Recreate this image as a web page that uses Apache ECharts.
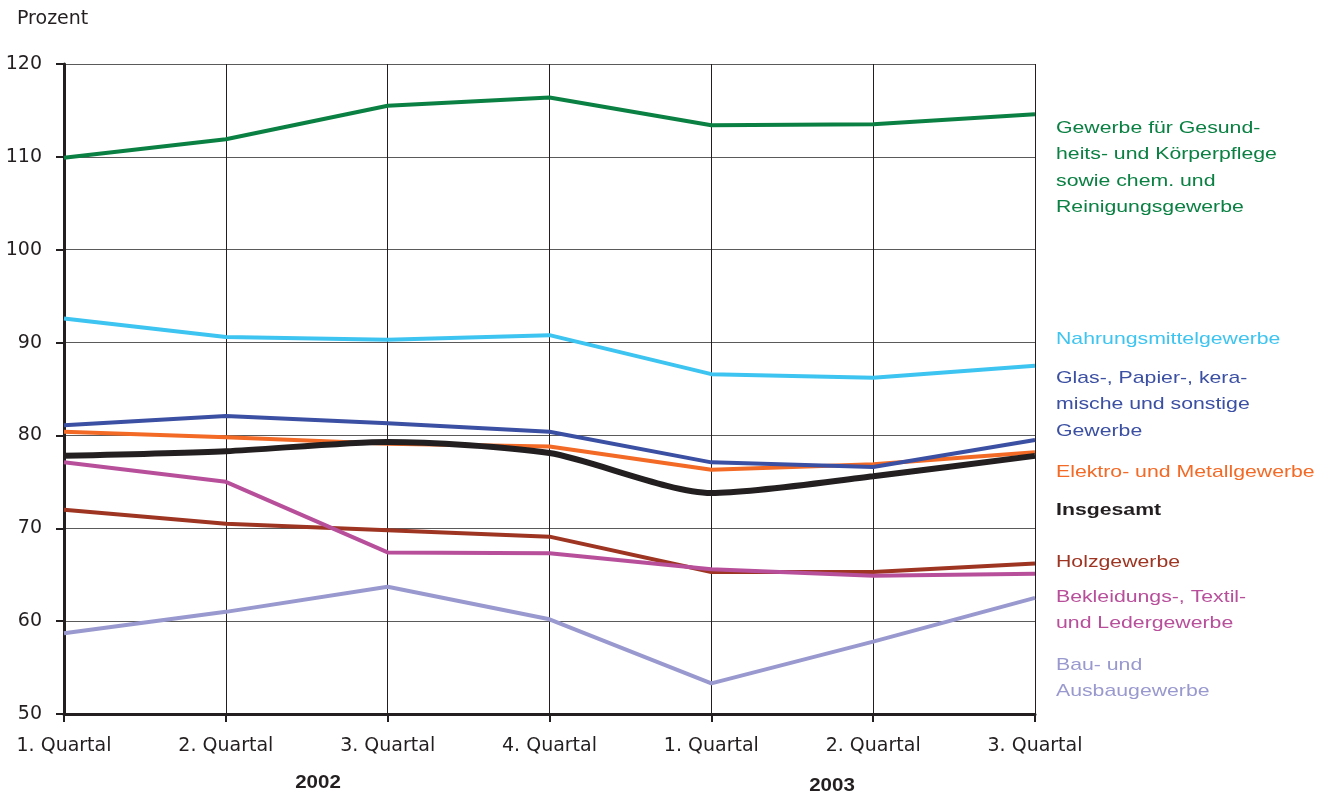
<!DOCTYPE html>
<html>
<head>
<meta charset="utf-8">
<script src="https://cdn.jsdelivr.net/npm/echarts@6/dist/echarts.min.js"></script>
<style>
  html, body { margin: 0; padding: 0; background: #fff; }
  #chart { width: 1335px; height: 796px; }
</style>
</head>
<body>
<div id="chart"></div>
<script>
const quarters = ['1. Quartal', '2. Quartal', '3. Quartal', '4. Quartal', '1. Quartal', '2. Quartal', '3. Quartal']
const years = ['2002', '2003']

const gesundheit = [109.9, 111.9, 115.5, 116.4, 113.4, 113.5, 114.6]
const nahrung = [92.6, 90.6, 90.3, 90.8, 86.6, 86.2, 87.5]
const glas = [81.1, 82.1, 81.3, 80.4, 77.1, 76.6, 79.5]
const elektro = [80.4, 79.8, 79.1, 78.8, 76.3, 76.9, 78.2]
const insgesamt = [77.8, 78.3, 79.3, 78.1, 73.8, 75.6, 77.8]
const holz = [72.0, 70.5, 69.8, 69.1, 65.3, 65.3, 66.2]
const bekleidung = [77.1, 75.0, 67.4, 67.3, 65.6, 64.9, 65.1]
const bau = [58.7, 61.0, 63.7, 60.2, 53.3, 57.8, 62.5]

const font = '"Liberation Sans", Arial, sans-serif'
const axisFont = '"DejaVu Sans", sans-serif'

const chart = echarts.init(document.getElementById('chart'))

function line(name, data, color, width, smooth) {
  return {
    name: name,
    type: 'line',
    data: data,
    symbol: 'none',
    smooth: smooth || false,
    lineStyle: { color: color, width: width },
    itemStyle: { color: color },
  }
}

// Beschriftungen rechts neben dem Diagramm
const labels = [
  { text: 'Gewerbe für Gesund-\nheits- und Körperpflege\nsowie chem. und\nReinigungsgewerbe', y: 115, color: '#0b8043' },
  { text: 'Nahrungsmittelgewerbe', y: 326, color: '#3ec4f0' },
  { text: 'Glas-, Papier-, kera-\nmische und sonstige\nGewerbe', y: 365, color: '#3b4fa3' },
  { text: 'Elektro- und Metallgewerbe', y: 459, color: '#f26a26' },
  { text: 'Insgesamt', y: 497, color: '#231f20', bold: true },
  { text: 'Holzgewerbe', y: 549, color: '#9e3522' },
  { text: 'Bekleidungs-, Textil-\nund Ledergewerbe', y: 584, color: '#b84f9b' },
  { text: 'Bau- und\nAusbaugewerbe', y: 652, color: '#9999cf' },
]

const option = {
  animation: false,
  backgroundColor: '#fff',
  textStyle: { fontFamily: font },
  grid: { left: 64, right: 300, top: 64, bottom: 82 },
  xAxis: {
    type: 'category',
    data: quarters,
    boundaryGap: false,
    axisLine: { lineStyle: { color: '#231f20', width: 3 } },
    axisTick: { show: true, length: 8, lineStyle: { color: '#231f20', width: 2 } },
    axisLabel: { color: '#231f20', fontSize: 19, margin: 23, fontFamily: axisFont },
    splitLine: { show: true, lineStyle: { color: '#231f20', width: 1 } },
  },
  yAxis: {
    type: 'value',
    min: 50,
    max: 120,
    interval: 10,
    name: 'Prozent',
    nameLocation: 'end',
    nameGap: 0,
    nameTextStyle: { color: '#231f20', fontSize: 19, fontFamily: axisFont, align: 'left', padding: [0, 0, 35, -47] },
    axisLine: { show: true, lineStyle: { color: '#231f20', width: 3 } },
    axisTick: { show: true, length: 8, lineStyle: { color: '#231f20', width: 2 } },
    axisLabel: { color: '#231f20', fontSize: 19, margin: 22, fontFamily: axisFont },
    splitLine: { show: true, lineStyle: { color: '#5a5a5a', width: 1 } },
  },
  series: [
    line('Bau- und Ausbaugewerbe', bau, '#9999cf', 4),
    line('Holzgewerbe', holz, '#9e3522', 4),
    line('Bekleidungs-, Textil- und Ledergewerbe', bekleidung, '#b84f9b', 4),
    line('Elektro- und Metallgewerbe', elektro, '#f26a26', 4),
    line('Insgesamt', insgesamt, '#231f20', 6, 0.25),
    line('Glas-, Papier-, keramische und sonstige Gewerbe', glas, '#3b4fa3', 4),
    line('Nahrungsmittelgewerbe', nahrung, '#3ec4f0', 4),
    line('Gewerbe für Gesundheits- und Körperpflege sowie chem. und Reinigungsgewerbe', gesundheit, '#0b8043', 4),
  ],
  graphic: labels.map(function (l) {
    return {
      type: 'text',
      x: 1056,
      y: l.y,
      scaleX: 1.25,
      style: {
        text: l.text,
        fill: l.color,
        fontSize: 17,
        lineHeight: 26.5,
        fontFamily: font,
        fontWeight: l.bold ? 'bold' : 'normal',
      },
    }
  }).concat([
    { type: 'text', x: 318, y: 773, scaleX: 1.08, style: { text: years[0], align: 'center', fill: '#231f20', fontSize: 19, fontWeight: 'bold', fontFamily: font } },
    { type: 'text', x: 832, y: 776, scaleX: 1.08, style: { text: years[1], align: 'center', fill: '#231f20', fontSize: 19, fontWeight: 'bold', fontFamily: font } },
  ]),
}

chart.setOption(option)
</script>
</body>
</html>
